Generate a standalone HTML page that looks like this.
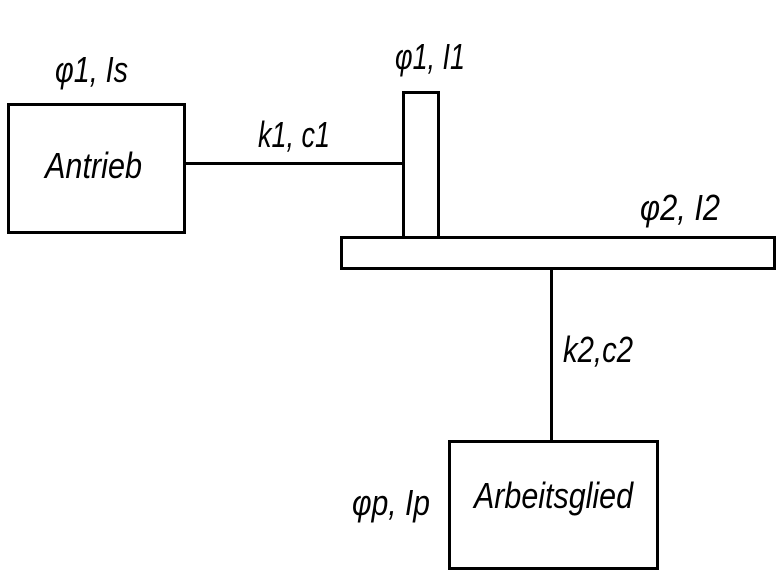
<!DOCTYPE html>
<html><head><meta charset="utf-8"><style>
html,body{margin:0;padding:0;background:#fff;}
svg{display:block}
text{font-family:"Liberation Sans",sans-serif;font-style:italic;font-size:36px;fill:#000;}
</style></head><body>
<svg width="777" height="581" viewBox="0 0 777 581" xmlns="http://www.w3.org/2000/svg">
<g fill="none" stroke="#000" stroke-width="3">
<rect x="8.5" y="104.5" width="176" height="128"/>
<line x1="185" y1="163.5" x2="402" y2="163.5"/>
<rect x="403.5" y="92.5" width="35" height="145"/>
<rect x="341.5" y="237.5" width="433" height="31"/>
<line x1="551.5" y1="269" x2="551.5" y2="441"/>
<rect x="449.5" y="441.5" width="208" height="127"/>
</g>
<text x="55" y="82" textLength="73" lengthAdjust="spacingAndGlyphs">φ1, Is</text>
<text x="45" y="178" textLength="97" lengthAdjust="spacingAndGlyphs">Antrieb</text>
<text x="258" y="147" textLength="72" lengthAdjust="spacingAndGlyphs">k1, c1</text>
<text x="395" y="69" textLength="70" lengthAdjust="spacingAndGlyphs">φ1, I1</text>
<text x="640" y="220" textLength="80" lengthAdjust="spacingAndGlyphs">φ2, I2</text>
<text x="563" y="362" textLength="70" lengthAdjust="spacingAndGlyphs">k2,c2</text>
<text x="352" y="515" textLength="78" lengthAdjust="spacingAndGlyphs">φp, Ip</text>
<text x="474" y="508" textLength="159" lengthAdjust="spacingAndGlyphs">Arbeitsglied</text>
</svg>
</body></html>
